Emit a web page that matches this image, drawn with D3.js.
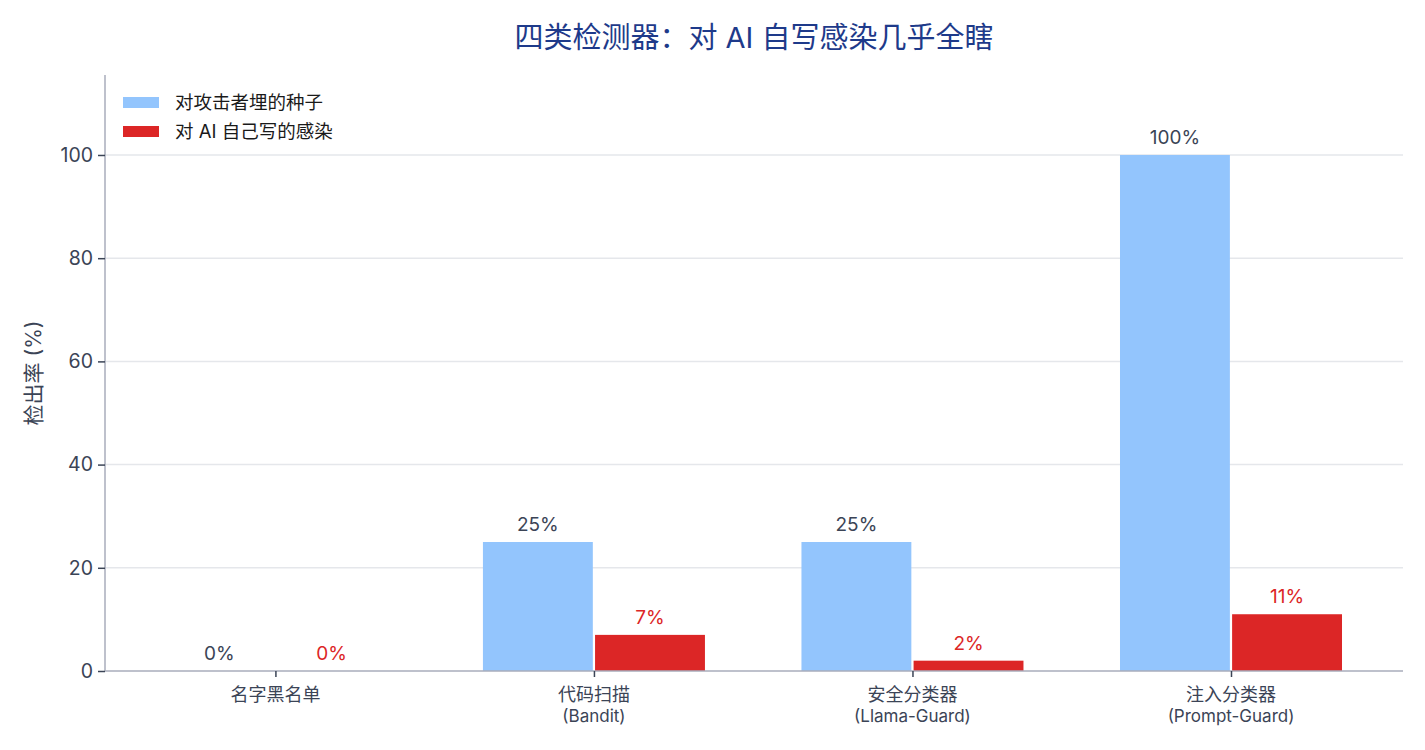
<!DOCTYPE html>
<html><head><meta charset="utf-8">
<script src="https://cdn.jsdelivr.net/npm/d3@7"></script>
<style>
body{margin:0;background:#fff;}
text{font-family:Inter,"Noto Sans CJK SC",sans-serif;}
</style></head>
<body><svg id="c" width="1425" height="750"></svg>
<script>
const categories = ["名字黑名单","代码扫描","安全分类器","注入分类器"];
const subLabels = ["","(Bandit)","(Llama-Guard)","(Prompt-Guard)"];
const seriesNames = ["对攻击者埋的种子","对 AI 自己写的感染"];
const seedValues = [0,25,25,100];
const infectValues = [0,7,2,11];
const yTicks = [0,20,40,60,80,100];
const title = "四类检测器：对 AI 自写感染几乎全瞎";
const yLabel = "检出率 (%)";

const colors = ["#93c5fd","#dc2626"];
const labelColors = ["#3b4456","#dc2626"];
const svg = d3.select("#c");
const L=105,R=1403,T=75,B=671;
const x = d3.scaleLinear().domain([-0.535,3.54]).range([L,R]);
const y = d3.scaleLinear().domain([0,115.5]).range([B,T]);
const bw = 0.345, off = 0.176;

// grid
svg.append("g").selectAll("line").data(yTicks.filter(d=>d>0)).join("line")
  .attr("x1",L).attr("x2",R).attr("y1",d=>y(d)).attr("y2",d=>y(d))
  .attr("stroke","#e5e7eb").attr("stroke-width",1.5);

const series = [seedValues, infectValues];
series.forEach((vals,si)=>{
  const o = si===0?-off:off;
  svg.append("g").selectAll("rect").data(vals).join("rect")
    .attr("x",(d,i)=>x(i+o)-x(bw/2)+x(0))
    .attr("width",x(bw)-x(0))
    .attr("y",d=>y(d)).attr("height",d=>B-y(d))
    .attr("fill",colors[si]);
  svg.append("g").selectAll("text").data(vals).join("text")
    .attr("x",(d,i)=>x(i+o)).attr("y",d=>y(d)-11)
    .attr("text-anchor","middle").attr("font-size",19)
    .attr("fill",labelColors[si]).text(d=>d+"%");
});

// axes
const yAxis = d3.axisLeft(y).tickValues(yTicks).tickSize(7).tickPadding(5);
const ga = svg.append("g").attr("transform",`translate(${L},0)`).call(yAxis);
ga.select(".domain").attr("d",`M0,${T}V${B}`).attr("stroke","#a8adbb").attr("stroke-width",1.5);
ga.selectAll(".tick line").attr("stroke","#3b4456").attr("stroke-width",1.5);
ga.selectAll(".tick text").attr("font-size",19.5).attr("fill","#3b4456").attr("font-family",null);

const xAxis = d3.axisBottom(x).tickValues([0,1,2,3]).tickSize(6).tickFormat("");
const gx = svg.append("g").attr("transform",`translate(0,${B})`).call(xAxis);
gx.select(".domain").attr("d",`M${L},0H${R}`).attr("stroke","#a8adbb").attr("stroke-width",1.5);
gx.selectAll(".tick line").attr("stroke","#3b4456").attr("stroke-width",1.5);
categories.forEach((c,i)=>{
  svg.append("text").attr("x",x(i)).attr("y",701).attr("text-anchor","middle")
    .attr("font-size",18).attr("fill","#3b4456").text(c);
  if(subLabels[i]) svg.append("text").attr("x",x(i)).attr("y",722).attr("text-anchor","middle")
    .attr("font-size",17).attr("fill","#3b4456").text(subLabels[i]);
});

// title
svg.append("text").attr("x",(L+R)/2).attr("y",48).attr("text-anchor","middle")
  .attr("font-size",29).attr("fill","#1e3a8a").text(title);
// y label
svg.append("text").attr("transform",`translate(41,${(T+B)/2}) rotate(-90)`)
  .attr("text-anchor","middle").attr("font-size",21).attr("fill","#3b4456").text(yLabel);

// legend
seriesNames.forEach((n,i)=>{
  svg.append("rect").attr("x",123).attr("y",97+i*29).attr("width",36).attr("height",11).attr("fill",colors[i]);
  svg.append("text").attr("x",175).attr("y",109+i*29).attr("font-size",18.5).attr("fill","#1a1a1a").text(n);
});
</script></body></html>
